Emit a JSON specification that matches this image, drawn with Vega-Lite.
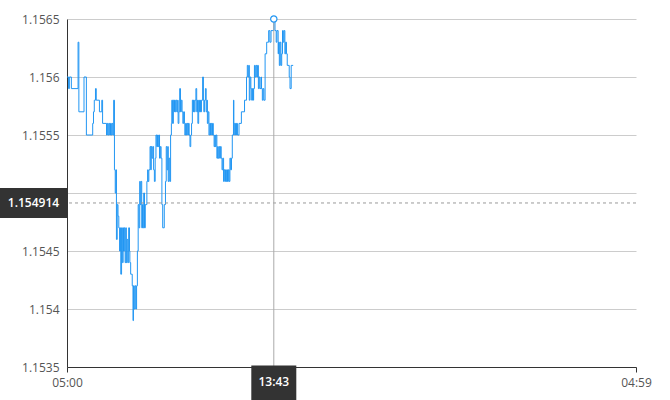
{
  "$schema": "https://vega.github.io/schema/vega-lite/v6.json",
  "width": 569,
  "height": 348,
  "autosize": "none",
  "padding": {"left": 67, "top": 19, "right": 34, "bottom": 33},
  "background": "white",
  "config": {
    "view": {"stroke": null},
    "font": "Open Sans",
    "axis": {"labelFont": "Open Sans", "labelFontSize": 12, "labelColor": "#555555"}
  },
  "datasets": {
    "prices": [
      {"t": "2024-01-01T05:00:00", "p": 1.1560},
      {"t": "2024-01-01T05:04:00", "p": 1.1559},
      {"t": "2024-01-01T05:06:00", "p": 1.1560},
      {"t": "2024-01-01T05:11:00", "p": 1.1559},
      {"t": "2024-01-01T05:28:00", "p": 1.1563},
      {"t": "2024-01-01T05:30:00", "p": 1.1557},
      {"t": "2024-01-01T05:43:00", "p": 1.1560},
      {"t": "2024-01-01T05:49:00", "p": 1.1555},
      {"t": "2024-01-01T06:05:00", "p": 1.1556},
      {"t": "2024-01-01T06:07:00", "p": 1.1557},
      {"t": "2024-01-01T06:09:00", "p": 1.1558},
      {"t": "2024-01-01T06:12:00", "p": 1.1559},
      {"t": "2024-01-01T06:14:00", "p": 1.1558},
      {"t": "2024-01-01T06:22:00", "p": 1.1557},
      {"t": "2024-01-01T06:28:00", "p": 1.1558},
      {"t": "2024-01-01T06:30:00", "p": 1.1556},
      {"t": "2024-01-01T06:40:00", "p": 1.1555},
      {"t": "2024-01-01T06:42:00", "p": 1.1556},
      {"t": "2024-01-01T06:44:00", "p": 1.1555},
      {"t": "2024-01-01T06:46:00", "p": 1.1556},
      {"t": "2024-01-01T06:48:00", "p": 1.1555},
      {"t": "2024-01-01T06:50:00", "p": 1.1556},
      {"t": "2024-01-01T06:52:00", "p": 1.1555},
      {"t": "2024-01-01T06:54:00", "p": 1.1556},
      {"t": "2024-01-01T06:56:00", "p": 1.1555},
      {"t": "2024-01-01T06:58:00", "p": 1.1558},
      {"t": "2024-01-01T07:00:00", "p": 1.1552},
      {"t": "2024-01-01T07:02:00", "p": 1.1550},
      {"t": "2024-01-01T07:04:00", "p": 1.1552},
      {"t": "2024-01-01T07:05:00", "p": 1.1546},
      {"t": "2024-01-01T07:07:00", "p": 1.1549},
      {"t": "2024-01-01T07:09:00", "p": 1.1548},
      {"t": "2024-01-01T07:11:00", "p": 1.1547},
      {"t": "2024-01-01T07:13:00", "p": 1.1545},
      {"t": "2024-01-01T07:15:00", "p": 1.1547},
      {"t": "2024-01-01T07:16:00", "p": 1.1543},
      {"t": "2024-01-01T07:18:00", "p": 1.1547},
      {"t": "2024-01-01T07:20:00", "p": 1.1544},
      {"t": "2024-01-01T07:22:00", "p": 1.1547},
      {"t": "2024-01-01T07:23:00", "p": 1.1545},
      {"t": "2024-01-01T07:25:00", "p": 1.1547},
      {"t": "2024-01-01T07:27:00", "p": 1.1544},
      {"t": "2024-01-01T07:29:00", "p": 1.1547},
      {"t": "2024-01-01T07:30:00", "p": 1.1544},
      {"t": "2024-01-01T07:32:00", "p": 1.1546},
      {"t": "2024-01-01T07:34:00", "p": 1.1544},
      {"t": "2024-01-01T07:36:00", "p": 1.1547},
      {"t": "2024-01-01T07:38:00", "p": 1.1545},
      {"t": "2024-01-01T07:39:00", "p": 1.1544},
      {"t": "2024-01-01T07:41:00", "p": 1.1543},
      {"t": "2024-01-01T07:45:00", "p": 1.1542},
      {"t": "2024-01-01T07:47:00", "p": 1.1539},
      {"t": "2024-01-01T07:48:00", "p": 1.1542},
      {"t": "2024-01-01T07:50:00", "p": 1.1540},
      {"t": "2024-01-01T07:52:00", "p": 1.1542},
      {"t": "2024-01-01T07:54:00", "p": 1.1540},
      {"t": "2024-01-01T07:56:00", "p": 1.1542},
      {"t": "2024-01-01T07:58:00", "p": 1.1545},
      {"t": "2024-01-01T08:00:00", "p": 1.1549},
      {"t": "2024-01-01T08:02:00", "p": 1.1547},
      {"t": "2024-01-01T08:04:00", "p": 1.1551},
      {"t": "2024-01-01T08:05:00", "p": 1.1549},
      {"t": "2024-01-01T08:07:00", "p": 1.1551},
      {"t": "2024-01-01T08:09:00", "p": 1.1547},
      {"t": "2024-01-01T08:11:00", "p": 1.1549},
      {"t": "2024-01-01T08:12:00", "p": 1.1547},
      {"t": "2024-01-01T08:14:00", "p": 1.1550},
      {"t": "2024-01-01T08:16:00", "p": 1.1547},
      {"t": "2024-01-01T08:18:00", "p": 1.1549},
      {"t": "2024-01-01T08:22:00", "p": 1.1551},
      {"t": "2024-01-01T08:24:00", "p": 1.1552},
      {"t": "2024-01-01T08:25:00", "p": 1.1551},
      {"t": "2024-01-01T08:27:00", "p": 1.1552},
      {"t": "2024-01-01T08:30:00", "p": 1.1554},
      {"t": "2024-01-01T08:32:00", "p": 1.1552},
      {"t": "2024-01-01T08:33:00", "p": 1.1554},
      {"t": "2024-01-01T08:35:00", "p": 1.1553},
      {"t": "2024-01-01T08:37:00", "p": 1.1554},
      {"t": "2024-01-01T08:39:00", "p": 1.1552},
      {"t": "2024-01-01T08:41:00", "p": 1.1551},
      {"t": "2024-01-01T08:43:00", "p": 1.1553},
      {"t": "2024-01-01T08:45:00", "p": 1.1555},
      {"t": "2024-01-01T08:47:00", "p": 1.1554},
      {"t": "2024-01-01T08:49:00", "p": 1.1555},
      {"t": "2024-01-01T08:50:00", "p": 1.1554},
      {"t": "2024-01-01T08:52:00", "p": 1.1555},
      {"t": "2024-01-01T08:54:00", "p": 1.1553},
      {"t": "2024-01-01T08:56:00", "p": 1.1554},
      {"t": "2024-01-01T08:58:00", "p": 1.1553},
      {"t": "2024-01-01T09:00:00", "p": 1.1549},
      {"t": "2024-01-01T09:02:00", "p": 1.1547},
      {"t": "2024-01-01T09:06:00", "p": 1.1549},
      {"t": "2024-01-01T09:09:00", "p": 1.1551},
      {"t": "2024-01-01T09:11:00", "p": 1.1554},
      {"t": "2024-01-01T09:13:00", "p": 1.1552},
      {"t": "2024-01-01T09:15:00", "p": 1.1554},
      {"t": "2024-01-01T09:16:00", "p": 1.1551},
      {"t": "2024-01-01T09:18:00", "p": 1.1553},
      {"t": "2024-01-01T09:20:00", "p": 1.1551},
      {"t": "2024-01-01T09:22:00", "p": 1.1555},
      {"t": "2024-01-01T09:24:00", "p": 1.1556},
      {"t": "2024-01-01T09:25:00", "p": 1.1558},
      {"t": "2024-01-01T09:27:00", "p": 1.1556},
      {"t": "2024-01-01T09:29:00", "p": 1.1558},
      {"t": "2024-01-01T09:31:00", "p": 1.1557},
      {"t": "2024-01-01T09:32:00", "p": 1.1558},
      {"t": "2024-01-01T09:34:00", "p": 1.1557},
      {"t": "2024-01-01T09:36:00", "p": 1.1558},
      {"t": "2024-01-01T09:38:00", "p": 1.1557},
      {"t": "2024-01-01T09:40:00", "p": 1.1558},
      {"t": "2024-01-01T09:41:00", "p": 1.1556},
      {"t": "2024-01-01T09:43:00", "p": 1.1557},
      {"t": "2024-01-01T09:45:00", "p": 1.1559},
      {"t": "2024-01-01T09:47:00", "p": 1.1557},
      {"t": "2024-01-01T09:49:00", "p": 1.1558},
      {"t": "2024-01-01T09:51:00", "p": 1.1557},
      {"t": "2024-01-01T09:53:00", "p": 1.1556},
      {"t": "2024-01-01T09:55:00", "p": 1.1557},
      {"t": "2024-01-01T09:57:00", "p": 1.1556},
      {"t": "2024-01-01T09:58:00", "p": 1.1555},
      {"t": "2024-01-01T10:00:00", "p": 1.1556},
      {"t": "2024-01-01T10:02:00", "p": 1.1555},
      {"t": "2024-01-01T10:04:00", "p": 1.1556},
      {"t": "2024-01-01T10:06:00", "p": 1.1555},
      {"t": "2024-01-01T10:07:00", "p": 1.1556},
      {"t": "2024-01-01T10:09:00", "p": 1.1555},
      {"t": "2024-01-01T10:11:00", "p": 1.1554},
      {"t": "2024-01-01T10:13:00", "p": 1.1555},
      {"t": "2024-01-01T10:15:00", "p": 1.1556},
      {"t": "2024-01-01T10:17:00", "p": 1.1558},
      {"t": "2024-01-01T10:19:00", "p": 1.1557},
      {"t": "2024-01-01T10:20:00", "p": 1.1558},
      {"t": "2024-01-01T10:22:00", "p": 1.1557},
      {"t": "2024-01-01T10:24:00", "p": 1.1558},
      {"t": "2024-01-01T10:26:00", "p": 1.1559},
      {"t": "2024-01-01T10:28:00", "p": 1.1557},
      {"t": "2024-01-01T10:30:00", "p": 1.1558},
      {"t": "2024-01-01T10:31:00", "p": 1.1556},
      {"t": "2024-01-01T10:33:00", "p": 1.1558},
      {"t": "2024-01-01T10:35:00", "p": 1.1557},
      {"t": "2024-01-01T10:37:00", "p": 1.1558},
      {"t": "2024-01-01T10:38:00", "p": 1.1557},
      {"t": "2024-01-01T10:40:00", "p": 1.1558},
      {"t": "2024-01-01T10:43:00", "p": 1.1560},
      {"t": "2024-01-01T10:45:00", "p": 1.1558},
      {"t": "2024-01-01T10:46:00", "p": 1.1557},
      {"t": "2024-01-01T10:48:00", "p": 1.1558},
      {"t": "2024-01-01T10:50:00", "p": 1.1559},
      {"t": "2024-01-01T10:52:00", "p": 1.1557},
      {"t": "2024-01-01T10:54:00", "p": 1.1558},
      {"t": "2024-01-01T10:55:00", "p": 1.1556},
      {"t": "2024-01-01T10:57:00", "p": 1.1557},
      {"t": "2024-01-01T10:59:00", "p": 1.1555},
      {"t": "2024-01-01T11:01:00", "p": 1.1556},
      {"t": "2024-01-01T11:03:00", "p": 1.1555},
      {"t": "2024-01-01T11:04:00", "p": 1.1556},
      {"t": "2024-01-01T11:06:00", "p": 1.1555},
      {"t": "2024-01-01T11:08:00", "p": 1.1556},
      {"t": "2024-01-01T11:10:00", "p": 1.1555},
      {"t": "2024-01-01T11:12:00", "p": 1.1554},
      {"t": "2024-01-01T11:14:00", "p": 1.1555},
      {"t": "2024-01-01T11:15:00", "p": 1.1554},
      {"t": "2024-01-01T11:17:00", "p": 1.1555},
      {"t": "2024-01-01T11:19:00", "p": 1.1553},
      {"t": "2024-01-01T11:21:00", "p": 1.1554},
      {"t": "2024-01-01T11:22:00", "p": 1.1553},
      {"t": "2024-01-01T11:24:00", "p": 1.1554},
      {"t": "2024-01-01T11:26:00", "p": 1.1553},
      {"t": "2024-01-01T11:28:00", "p": 1.1554},
      {"t": "2024-01-01T11:30:00", "p": 1.1553},
      {"t": "2024-01-01T11:32:00", "p": 1.1552},
      {"t": "2024-01-01T11:34:00", "p": 1.1553},
      {"t": "2024-01-01T11:36:00", "p": 1.1551},
      {"t": "2024-01-01T11:37:00", "p": 1.1552},
      {"t": "2024-01-01T11:39:00", "p": 1.1551},
      {"t": "2024-01-01T11:41:00", "p": 1.1552},
      {"t": "2024-01-01T11:43:00", "p": 1.1551},
      {"t": "2024-01-01T11:45:00", "p": 1.1552},
      {"t": "2024-01-01T11:46:00", "p": 1.1551},
      {"t": "2024-01-01T11:48:00", "p": 1.1552},
      {"t": "2024-01-01T11:50:00", "p": 1.1551},
      {"t": "2024-01-01T11:52:00", "p": 1.1553},
      {"t": "2024-01-01T11:54:00", "p": 1.1552},
      {"t": "2024-01-01T11:56:00", "p": 1.1553},
      {"t": "2024-01-01T11:58:00", "p": 1.1555},
      {"t": "2024-01-01T12:01:00", "p": 1.1558},
      {"t": "2024-01-01T12:02:00", "p": 1.1556},
      {"t": "2024-01-01T12:04:00", "p": 1.1555},
      {"t": "2024-01-01T12:06:00", "p": 1.1556},
      {"t": "2024-01-01T12:08:00", "p": 1.1555},
      {"t": "2024-01-01T12:09:00", "p": 1.1556},
      {"t": "2024-01-01T12:11:00", "p": 1.1555},
      {"t": "2024-01-01T12:15:00", "p": 1.1556},
      {"t": "2024-01-01T12:21:00", "p": 1.1557},
      {"t": "2024-01-01T12:29:00", "p": 1.1558},
      {"t": "2024-01-01T12:34:00", "p": 1.1560},
      {"t": "2024-01-01T12:36:00", "p": 1.1561},
      {"t": "2024-01-01T12:38:00", "p": 1.1560},
      {"t": "2024-01-01T12:40:00", "p": 1.1561},
      {"t": "2024-01-01T12:41:00", "p": 1.1558},
      {"t": "2024-01-01T12:43:00", "p": 1.1560},
      {"t": "2024-01-01T12:45:00", "p": 1.1559},
      {"t": "2024-01-01T12:47:00", "p": 1.1558},
      {"t": "2024-01-01T12:49:00", "p": 1.1559},
      {"t": "2024-01-01T12:51:00", "p": 1.1558},
      {"t": "2024-01-01T12:52:00", "p": 1.1559},
      {"t": "2024-01-01T12:54:00", "p": 1.1561},
      {"t": "2024-01-01T12:56:00", "p": 1.1560},
      {"t": "2024-01-01T12:58:00", "p": 1.1561},
      {"t": "2024-01-01T13:00:00", "p": 1.1560},
      {"t": "2024-01-01T13:02:00", "p": 1.1561},
      {"t": "2024-01-01T13:04:00", "p": 1.1559},
      {"t": "2024-01-01T13:06:00", "p": 1.1560},
      {"t": "2024-01-01T13:08:00", "p": 1.1559},
      {"t": "2024-01-01T13:11:00", "p": 1.1560},
      {"t": "2024-01-01T13:12:00", "p": 1.1559},
      {"t": "2024-01-01T13:14:00", "p": 1.1558},
      {"t": "2024-01-01T13:16:00", "p": 1.1559},
      {"t": "2024-01-01T13:18:00", "p": 1.1558},
      {"t": "2024-01-01T13:21:00", "p": 1.1562},
      {"t": "2024-01-01T13:25:00", "p": 1.1563},
      {"t": "2024-01-01T13:30:00", "p": 1.1564},
      {"t": "2024-01-01T13:33:00", "p": 1.1563},
      {"t": "2024-01-01T13:36:00", "p": 1.1564},
      {"t": "2024-01-01T13:43:00", "p": 1.1565},
      {"t": "2024-01-01T13:46:00", "p": 1.1564},
      {"t": "2024-01-01T13:49:00", "p": 1.1563},
      {"t": "2024-01-01T13:51:00", "p": 1.1564},
      {"t": "2024-01-01T13:54:00", "p": 1.1562},
      {"t": "2024-01-01T13:55:00", "p": 1.1563},
      {"t": "2024-01-01T13:57:00", "p": 1.1561},
      {"t": "2024-01-01T13:59:00", "p": 1.1563},
      {"t": "2024-01-01T14:01:00", "p": 1.1561},
      {"t": "2024-01-01T14:03:00", "p": 1.1562},
      {"t": "2024-01-01T14:05:00", "p": 1.1564},
      {"t": "2024-01-01T14:07:00", "p": 1.1563},
      {"t": "2024-01-01T14:09:00", "p": 1.1564},
      {"t": "2024-01-01T14:11:00", "p": 1.1562},
      {"t": "2024-01-01T14:13:00", "p": 1.1563},
      {"t": "2024-01-01T14:15:00", "p": 1.1562},
      {"t": "2024-01-01T14:17:00", "p": 1.1561},
      {"t": "2024-01-01T14:22:00", "p": 1.1560},
      {"t": "2024-01-01T14:24:00", "p": 1.1559},
      {"t": "2024-01-01T14:27:00", "p": 1.1561},
      {"t": "2024-01-01T14:32:00", "p": 1.1561}
    ],
    "cursor": [{"t": "2024-01-01T13:43:00", "p": 1.1565}],
    "last": [{"p": 1.154914}]
  },
  "layer": [
    {
      "data": {"name": "prices"},
      "mark": {"type": "line", "interpolate": "step-after", "color": "#2196f3", "strokeWidth": 1},
      "encoding": {
        "x": {
          "field": "t", "type": "temporal",
          "scale": {"domain": ["2024-01-01T05:00:00", "2024-01-02T04:59:00"]},
          "axis": {
            "title": null, "grid": false, "format": "%H:%M",
            "values": ["2024-01-01T05:00:00", "2024-01-02T04:59:00"],
            "domainColor": "#333333", "tickColor": "#333333", "tickSize": 5,
            "labelPadding": 5, "labelFlush": false, "labelOverlap": false
          }
        },
        "y": {
          "field": "p", "type": "quantitative",
          "scale": {"domain": [1.1535, 1.1565], "zero": false, "nice": false},
          "axis": {
            "title": null, "grid": true, "gridColor": "#cccccc", "ticks": false,
            "values": [1.1535, 1.154, 1.1545, 1.155, 1.1555, 1.156, 1.1565],
            "labelExpr": "abs(datum.value - 1.155) < 0.00001 ? '' : format(datum.value, '~f')",
            "domainColor": "#333333", "labelPadding": 8
          }
        }
      }
    },
    {
      "data": {"name": "last"},
      "mark": {"type": "rule", "color": "#999999", "strokeDash": [3, 3], "strokeWidth": 1},
      "encoding": {"y": {"field": "p", "type": "quantitative"}}
    },
    {
      "data": {"name": "cursor"},
      "mark": {"type": "rule", "color": "#aaaaaa", "strokeWidth": 1},
      "encoding": {"x": {"field": "t", "type": "temporal"}}
    },
    {
      "data": {"name": "cursor"},
      "mark": {"type": "point", "shape": "circle", "filled": false, "fill": "white", "stroke": "#2196f3", "strokeWidth": 1.2, "size": 40, "opacity": 1},
      "encoding": {
        "x": {"field": "t", "type": "temporal"},
        "y": {"field": "p", "type": "quantitative"}
      }
    },
    {
      "data": {"name": "last"},
      "mark": {"type": "rect", "color": "#333333", "xOffset": -67, "x2Offset": 0, "yOffset": -15, "y2Offset": 15},
      "encoding": {
        "x": {"value": 0},
        "x2": {"value": 0},
        "y": {"field": "p", "type": "quantitative"},
        "y2": {"field": "p"}
      }
    },
    {
      "data": {"name": "last"},
      "mark": {"type": "text", "color": "white", "fontSize": 12, "fontWeight": 600, "align": "center", "baseline": "middle", "xOffset": -33.5, "font": "Open Sans"},
      "encoding": {
        "x": {"value": 0},
        "y": {"field": "p", "type": "quantitative"},
        "text": {"field": "p", "type": "quantitative", "format": ".6f"}
      }
    },
    {
      "data": {"name": "cursor"},
      "mark": {"type": "rect", "color": "#333333", "xOffset": -22.5, "x2Offset": 22.5, "yOffset": -1.5, "y2Offset": 33},
      "encoding": {
        "x": {"field": "t", "type": "temporal"},
        "x2": {"field": "t"},
        "y": {"value": "height"},
        "y2": {"value": "height"}
      }
    },
    {
      "data": {"name": "cursor"},
      "mark": {"type": "text", "color": "white", "fontSize": 12, "fontWeight": 600, "align": "center", "baseline": "middle", "yOffset": 15, "font": "Open Sans"},
      "encoding": {
        "x": {"field": "t", "type": "temporal"},
        "y": {"value": "height"},
        "text": {"field": "t", "type": "temporal", "format": "%H:%M"}
      }
    }
  ]
}
